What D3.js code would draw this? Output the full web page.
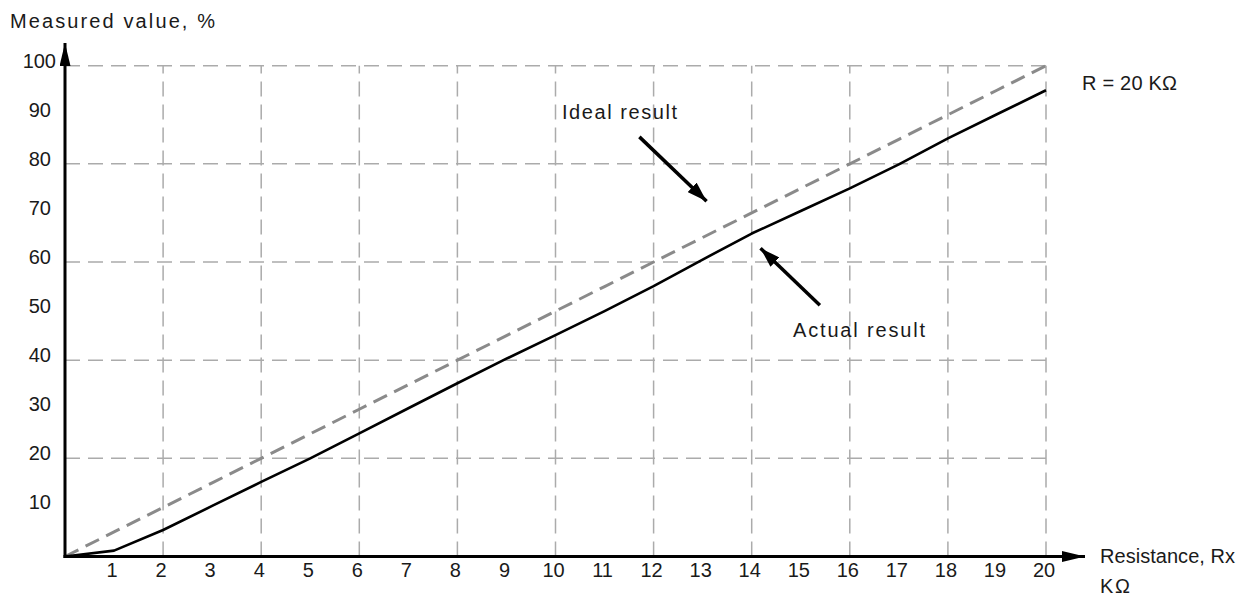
<!DOCTYPE html>
<html>
<head>
<meta charset="utf-8">
<script src="https://cdn.jsdelivr.net/npm/d3@7"></script>
<style>
  html, body { margin: 0; padding: 0; background: #fff; }
  svg { display: block; }
  text { font-family: "Liberation Sans", Arial, sans-serif; fill: #1a1a1a; }
</style>
</head>
<body>
<svg id="chart" width="1238" height="596"></svg>
<script>
// ---- data ----
const resistance = [0,1,2,3,4,5,6,7,8,9,10,11,12,13,14,15,16,17,18,19,20];
const idealValues = [0,5,10,15,20,25,30,35,40,45,50,55,60,65,70,75,80,85,90,95,100];
const actualValues = [0,1.2,5.4,10.3,15.2,20,25.1,30.2,35.3,40.3,45.1,50,55.1,60.5,65.8,70.4,75,79.9,85.2,90.1,95];
const xTickLabels = [1,2,3,4,5,6,7,8,9,10,11,12,13,14,15,16,17,18,19,20];
const yTickLabels = [10,20,30,40,50,60,70,80,90,100];
const xGrid = [2,4,6,8,10,12,14,16,18,20];
const yGrid = [20,40,60,80,100];

const svg = d3.select("#chart");
const x = d3.scaleLinear().domain([0, 20]).range([65, 1046]);
const y = d3.scaleLinear().domain([0, 100]).range([556.5, 65.7]);

const FS = 20;

// grid
const grid = svg.append("g");
grid.selectAll("line.v").data(xGrid).join("line")
  .attr("x1", d => x(d)).attr("x2", d => x(d))
  .attr("y1", y(0)).attr("y2", y(100))
  .attr("stroke", "#ababab").attr("stroke-width", 1.5)
  .attr("stroke-dasharray", "15,8");
grid.selectAll("line.h").data(yGrid).join("line")
  .attr("x1", x(0)).attr("x2", x(20))
  .attr("y1", d => y(d)).attr("y2", d => y(d))
  .attr("stroke", "#ababab").attr("stroke-width", 1.5)
  .attr("stroke-dasharray", "15,8");

// lines
const line = d3.line().x((d, i) => x(resistance[i])).y(d => y(d));
svg.append("path").datum(idealValues).attr("d", line)
  .attr("fill", "none").attr("stroke", "#8a8a8a").attr("stroke-width", 3)
  .attr("stroke-dasharray", "15,8");
svg.append("path").datum(actualValues).attr("d", line)
  .attr("fill", "none").attr("stroke", "#000").attr("stroke-width", 2.6)
  .attr("stroke-linejoin", "round");

// axes
const defs = svg.append("defs");
function arrowHead(id, len, half) {
  defs.append("marker").attr("id", id)
    .attr("viewBox", `0 ${-half} ${len} ${2*half}`)
    .attr("refX", len).attr("refY", 0)
    .attr("markerWidth", len).attr("markerHeight", 2*half)
    .attr("markerUnits", "userSpaceOnUse")
    .attr("orient", "auto")
    .append("path").attr("d", `M0,${-half}L${len},0L0,${half}Z`).attr("fill", "#000");
}
arrowHead("axisArrow", 23, 5.5);
arrowHead("noteArrow", 20, 6.5);

svg.append("line").attr("x1", x(0)).attr("y1", y(0) + 1.5).attr("x2", x(0)).attr("y2", 43)
  .attr("stroke", "#000").attr("stroke-width", 3).attr("marker-end", "url(#axisArrow)");
svg.append("line").attr("x1", x(0) - 1.5).attr("y1", y(0)).attr("x2", 1085).attr("y2", y(0))
  .attr("stroke", "#000").attr("stroke-width", 3).attr("marker-end", "url(#axisArrow)");

// tick labels
svg.append("g").selectAll("text").data(xTickLabels).join("text")
  .attr("x", d => x(d) - 2).attr("y", 577)
  .attr("text-anchor", "middle").attr("font-size", FS)
  .text(d => d);
svg.append("g").selectAll("text").data(yTickLabels).join("text")
  .attr("x", d => d === 100 ? 56 : 51).attr("y", d => y(d) + 2)
  .attr("text-anchor", "end").attr("font-size", FS)
  .text(d => d);

// helper for texts with fixed width
function label(txt, x0, y0, len) {
  const t = svg.append("text").attr("x", x0).attr("y", y0).attr("font-size", FS).text(txt);
  if (len) t.attr("textLength", len).attr("lengthAdjust", "spacing");
  return t;
}

// axis titles
label("Measured value, %", 10, 28, 205);
label("Resistance, Rx", 1100, 563, 135);
label("KΩ", 1100, 593, 30);
label("R = 20 KΩ", 1082, 90, 95);

// annotations
label("Ideal result", 562, 119, 115);
svg.append("line")
  .attr("x1", x(11.71)).attr("y1", y(85.5)).attr("x2", x(13.08)).attr("y2", y(72.4))
  .attr("stroke", "#000").attr("stroke-width", 3.5).attr("marker-end", "url(#noteArrow)");
label("Actual result", 793, 337, 132);
svg.append("line")
  .attr("x1", x(15.39)).attr("y1", y(51.2)).attr("x2", x(14.18)).attr("y2", y(62.8))
  .attr("stroke", "#000").attr("stroke-width", 3.5).attr("marker-end", "url(#noteArrow)");
</script>
</body>
</html>
